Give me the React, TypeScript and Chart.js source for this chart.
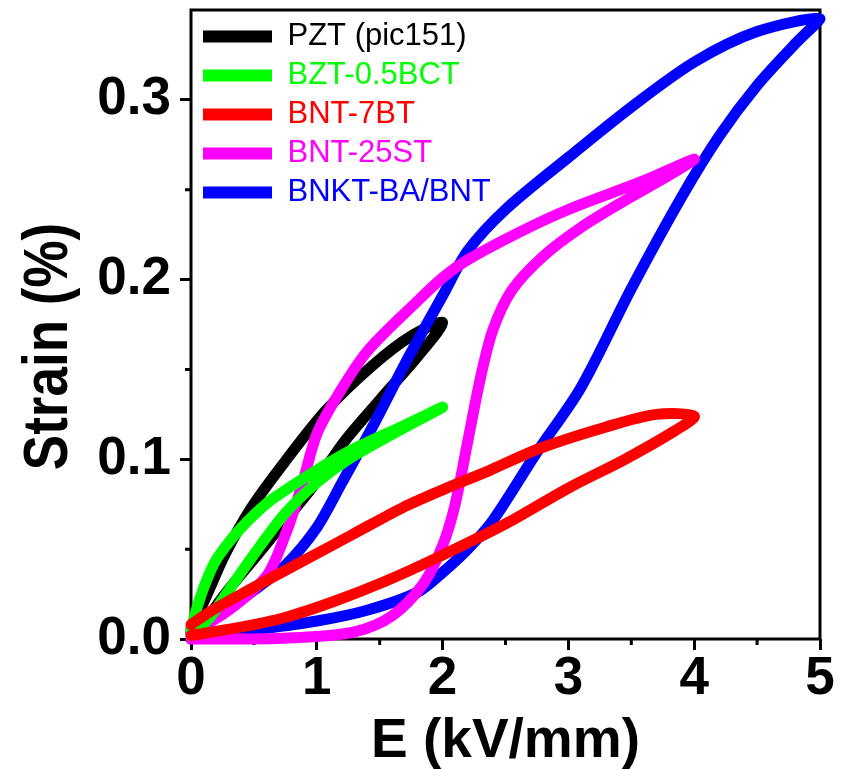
import React, { useEffect, useRef } from "react";
import { Chart, registerables } from "chart.js";

Chart.register(...registerables);

const FONT = "'Liberation Sans', Arial, sans-serif";

const seriesLabels = ["PZT (pic151)", "BZT-0.5BCT", "BNT-7BT", "BNT-25ST", "BNKT-BA/BNT"];
const seriesColors = ["#000000", "#00ff00", "#ff0000", "#ff00ff", "#0000ff"];
// drawing stack: lower order = drawn on top
const seriesOrder = [4, 1, 0, 2, 3];

// PZT (pic151): rising branch then returning branch
const pztE = [0, 0.1, 0.27, 0.53, 0.75, 0.96, 1.22, 1.5, 1.8, 2.0, 1.76, 1.44, 1.07, 0.75, 0.48, 0.27, 0.11, 0];
const pztS = [0.003, 0.009, 0.025, 0.047, 0.066, 0.084, 0.11, 0.133, 0.157, 0.176, 0.169, 0.152, 0.127, 0.099, 0.073, 0.047, 0.022, 0.006];

// BZT-0.5BCT
const bztE = [0, 0.15, 0.3, 0.5, 0.75, 1.0, 1.25, 1.6, 2.0, 1.7, 1.3, 1.0, 0.65, 0.5, 0.35, 0.2, 0.12, 0.05, 0];
const bztS = [0.002, 0.012, 0.027, 0.047, 0.07, 0.087, 0.1, 0.114, 0.129, 0.119, 0.106, 0.094, 0.078, 0.069, 0.058, 0.044, 0.032, 0.018, 0.005];

// BNT-7BT
const bnt7E = [0, 0.35, 0.75, 1.14, 1.54, 1.95, 2.5, 3.0, 3.45, 3.85, 4.0, 3.7, 3.3, 2.77, 2.38, 2.0, 1.68, 1.28, 0.88, 0.48, 0.17, 0];
const bnt7S = [0.002, 0.006, 0.012, 0.021, 0.032, 0.045, 0.064, 0.084, 0.1, 0.116, 0.124, 0.125, 0.118, 0.106, 0.094, 0.083, 0.073, 0.058, 0.043, 0.028, 0.016, 0.008];

// BNT-25ST
const bnt25E = [0, 0.5, 0.9, 1.3, 1.6, 1.85, 2.0, 2.1, 2.2, 2.3, 2.4, 2.55, 2.8, 3.1, 3.45, 3.8, 4.0, 3.6, 3.0, 2.6, 2.2, 2.0, 1.8, 1.4, 1.17, 1.0, 0.88, 0.75, 0.6, 0.3, 0];
const bnt25S = [0, 0, 0.001, 0.004, 0.013, 0.031, 0.052, 0.075, 0.11, 0.145, 0.172, 0.194, 0.213, 0.229, 0.244, 0.258, 0.267, 0.255, 0.239, 0.226, 0.211, 0.201, 0.188, 0.16, 0.136, 0.114, 0.085, 0.058, 0.035, 0.016, 0.003];

// BNKT-BA/BNT
const bnktE = [0, 0.5, 1.0, 1.4, 1.8, 2.0, 2.2, 2.4, 2.75, 3.1, 3.5, 3.9, 4.2, 4.5, 4.8, 5.0, 4.5, 4.0, 3.5, 3.0, 2.5, 2.2, 2.0, 1.7, 1.45, 1.2, 1.0, 0.75, 0.5, 0.2, 0];
const bnktS = [0, 0.005, 0.01, 0.016, 0.026, 0.037, 0.05, 0.066, 0.104, 0.14, 0.195, 0.246, 0.28, 0.308, 0.331, 0.345, 0.338, 0.321, 0.296, 0.268, 0.239, 0.216, 0.191, 0.153, 0.119, 0.087, 0.062, 0.041, 0.027, 0.012, 0.004];

const seriesE = [pztE, bztE, bnt7E, bnt25E, bnktE];
const seriesS = [pztS, bztS, bnt7S, bnt25S, bnktS];

const xTickValues = [0, 1, 2, 3, 4, 5];
const xTickLabels = ["0", "1", "2", "3", "4", "5"];
const yTickValues = [0, 0.1, 0.2, 0.3];
const yTickLabels = ["0.0", "0.1", "0.2", "0.3"];
const xMinorTicks = [0.5, 1.5, 2.5, 3.5, 4.5];
const yMinorTicks = [0.05, 0.15, 0.25];

const xTitle = "E (kV/mm)";
const yTitle = "Strain (%)";

const framePlugin = {
  id: "frameAndLegendPos",
  afterLayout(chart: any) {
    const lg = chart.legend;
    const ca = chart.chartArea;
    if (lg) {
      const w = lg.width;
      const h = lg.height;
      lg.left = ca.left + 4;
      lg.top = ca.top + 3;
      lg.right = lg.left + w;
      lg.bottom = lg.top + h;
    }
  },
  beforeDatasetsDraw(chart: any) {
    const { ctx, chartArea: ca, scales } = chart;
    ctx.save();
    ctx.strokeStyle = "#000";
    ctx.lineWidth = 3;
    ctx.strokeRect(ca.left, ca.top, ca.right - ca.left, ca.bottom - ca.top);
    ctx.beginPath();
    xMinorTicks.forEach((v) => {
      const px = scales.x.getPixelForValue(v);
      ctx.moveTo(px, ca.bottom);
      ctx.lineTo(px, ca.bottom + 6);
    });
    yMinorTicks.forEach((v) => {
      const py = scales.y.getPixelForValue(v);
      ctx.moveTo(ca.left, py);
      ctx.lineTo(ca.left - 6, py);
    });
    ctx.stroke();
    ctx.restore();
  },
  afterDraw(chart: any) {
    // y-axis title (slightly tall glyphs, as in the reference)
    const { ctx, chartArea: ca } = chart;
    ctx.save();
    ctx.translate(49, (ca.top + ca.bottom) / 2 + 22);
    ctx.rotate(-Math.PI / 2);
    ctx.scale(1, 1.2);
    ctx.font = `bold 53px ${FONT}`;
    ctx.fillStyle = "#000";
    ctx.textAlign = "center";
    ctx.textBaseline = "middle";
    ctx.fillText(yTitle, 0, 0);
    ctx.restore();
  },
};

export default function App() {
  const ref = useRef<HTMLCanvasElement>(null);

  useEffect(() => {
    if (!ref.current) return;
    const datasets = seriesLabels.map((label, i) => ({
      label,
      data: seriesE[i].map((e, j) => ({ x: e, y: seriesS[i][j] })),
      borderColor: seriesColors[i],
      backgroundColor: seriesColors[i],
      borderWidth: 11,
      pointRadius: 0,
      pointHoverRadius: 0,
      tension: 0.3,
      fill: false,
      borderCapStyle: "round" as const,
      borderJoinStyle: "round" as const,
      clip: false as const,
      order: seriesOrder[i],
    }));

    const grid = {
      display: true,
      drawOnChartArea: false,
      drawTicks: true,
      tickLength: 11,
      tickWidth: 3,
      tickColor: "#000",
    };

    const chart = new Chart(ref.current, {
      type: "line",
      data: { datasets },
      plugins: [framePlugin],
      options: {
        responsive: false,
        devicePixelRatio: 1,
        animation: false,
        events: [],
        layout: { padding: { top: 10, right: 27, left: 0, bottom: 0 } },
        scales: {
          x: {
            type: "linear",
            min: 0,
            max: 5,
            afterBuildTicks: (s: any) => {
              s.ticks = xTickValues.map((v) => ({ value: v }));
            },
            afterFit: (s: any) => {
              s.height = 130;
              s.paddingLeft = 0;
              s.paddingRight = 0;
            },
            grid,
            border: { display: false },
            ticks: {
              autoSkip: false,
              maxRotation: 0,
              padding: 3,
              color: "#000",
              font: { family: FONT, size: 53, weight: "bold", lineHeight: 1 },
              callback: (_v: any, i: number) => xTickLabels[i],
            },
            title: {
              display: true,
              text: xTitle,
              color: "#000",
              font: { family: FONT, size: 55, weight: "bold", lineHeight: 1 },
              padding: { top: 0, bottom: 0 },
            },
          },
          y: {
            type: "linear",
            min: 0,
            max: 0.35,
            afterBuildTicks: (s: any) => {
              s.ticks = yTickValues.map((v) => ({ value: v }));
            },
            afterFit: (s: any) => {
              s.width = 191;
              s.paddingTop = 0;
              s.paddingBottom = 0;
            },
            grid,
            border: { display: false },
            ticks: {
              autoSkip: false,
              padding: 9,
              color: "#000",
              font: { family: FONT, size: 53, weight: "bold", lineHeight: 1 },
              callback: (_v: any, i: number) => yTickLabels[i],
            },
            title: { display: false, text: yTitle },
          },
        },
        plugins: {
          tooltip: { enabled: false },
          legend: {
            position: "chartArea" as any,
            align: "start",
            labels: {
              boxWidth: 69,
              boxHeight: 12,
              padding: 8,
              font: { family: FONT, size: 31, lineHeight: 1 },
              generateLabels: (ch: any) =>
                ch.data.datasets.map((ds: any, i: number) => ({
                  text: ds.label,
                  fillStyle: ds.borderColor,
                  strokeStyle: ds.borderColor,
                  fontColor: ds.borderColor,
                  lineWidth: 0,
                  hidden: false,
                  datasetIndex: i,
                })),
            },
          },
        },
      } as any,
    });
    return () => chart.destroy();
  }, []);

  return (
    <div style={{ position: "absolute", left: 0, top: 0, width: 847, height: 769 }}>
      <canvas ref={ref} width={847} height={769} style={{ display: "block", width: 847, height: 769 }} />
    </div>
  );
}
